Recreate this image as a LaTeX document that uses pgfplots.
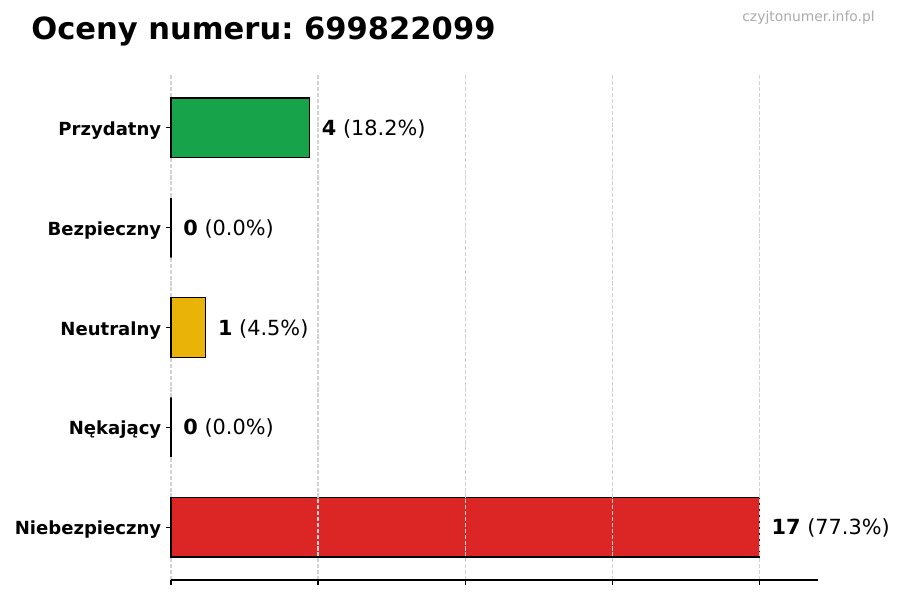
\documentclass[border=0pt]{standalone}
\usepackage{pgfplots}
\pgfplotsset{compat=1.18}
\usepackage{fontspec}
\setmainfont{DejaVu Sans}
\definecolor{cgreen}{HTML}{16A34A}
\definecolor{cyellow}{HTML}{EAB308}
\definecolor{cred}{HTML}{DC2626}
\definecolor{cgray}{HTML}{6B7280}
\begin{document}
\frenchspacing
\begin{tikzpicture}[x=0.72pt,y=0.72pt]
\useasboundingbox (0,0) rectangle (900,600);
\begin{axis}[
    at={(123.12pt,14.4pt)}, anchor=south west,
    scale only axis, width=465.84pt, height=363.6pt,
    xmin=0, xmax=18.7, ymin=-0.53, ymax=4.53,
    xtick={4.25,8.5,12.75,17}, xticklabels={},
    extra x ticks={0}, extra x tick labels={},
    extra x tick style={grid=none},
    ytick={0,1,2,3,4},
    yticklabels={Niebezpieczny,Nękający,Neutralny,Bezpieczny,Przydatny},
    yticklabel style={font=\fontsize{13}{15}\selectfont\bfseries, yshift=-2pt},
    tick align=outside, major tick length=3.5pt,
    tick style={black, line width=0.8pt},
    xmajorgrids,
    grid style={gray!35, line width=0.8pt, dash pattern=on 2.96pt off 1.28pt},
    axis x line*=bottom, axis y line*=left,
    axis line style={-, line width=0.8pt},
    y axis line style={draw=none},
    axis on top,
    xbar, bar width=0.6, bar shift=0pt,
    point meta=explicit symbolic,
    nodes near coords={\pgfplotspointmeta},
    every node near coord/.append style={font=\fontsize{15}{18}\selectfont,
        anchor=west, inner sep=0pt, xshift=8.6pt, yshift=-0.8pt, black},
    clip=false,
]
% grid line at zero, kept behind the bars
\draw[gray!35, line width=0.8pt, dash pattern=on 2.96pt off 1.28pt]
    (axis cs:0,-0.53) -- (axis cs:0,4.53);
\addplot[draw=black, fill=cgreen, line width=0.8pt] coordinates {(4,4) [\textbf{4} (18.2\%)]};
\addplot[draw=black, fill=cgray, line width=0.8pt] coordinates {(0,3) [\textbf{0} (0.0\%)]};
\addplot[draw=black, fill=cyellow, line width=0.8pt] coordinates {(1,2) [\textbf{1} (4.5\%)]};
\addplot[draw=black, fill=cgray, line width=0.8pt] coordinates {(0,1) [\textbf{0} (0.0\%)]};
\addplot[draw=black, fill=cred, line width=0.8pt] coordinates {(17,0) [\textbf{17} (77.3\%)]};
\end{axis}
\node[anchor=base west, inner sep=0pt, font=\fontsize{22}{26}\selectfont\bfseries] at (31,560) {Oceny numeru: 699822099};
\node[anchor=base east, inner sep=0pt, font=\fontsize{10}{12}\selectfont, text=black!33] at (875,578) {czyjtonumer.info.pl};
\end{tikzpicture}
\end{document}
